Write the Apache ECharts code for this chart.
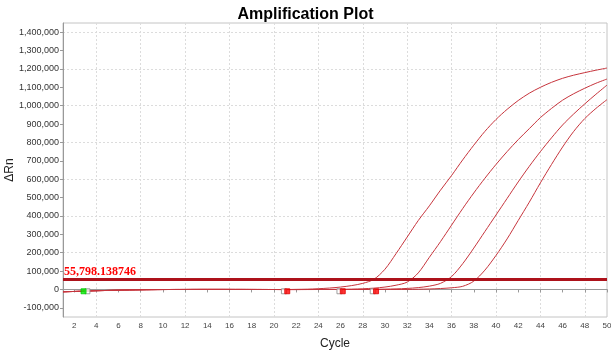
<!DOCTYPE html>
<html>
<head>
<meta charset="utf-8">
<script src="https://cdn.jsdelivr.net/npm/echarts@6/dist/echarts.min.js"></script>
<style>
  html, body { margin: 0; padding: 0; background: #fff; }
  #chart { width: 611px; height: 353px; }
</style>
</head>
<body>
<div id="chart"></div>
<script>
const cycles = [1, 2, 3, 4, 5, 6, 7, 8, 9, 10, 11, 12, 13, 14, 15, 16, 17, 18, 19, 20,
  21, 22, 23, 24, 25, 26, 27, 28, 29, 30, 31, 32, 33, 34, 35, 36, 37, 38, 39, 40,
  41, 42, 43, 44, 45, 46, 47, 48, 49, 50]

// shared baseline, cycles 1..21
const baseline = [-13000, -11000, -9000, -7000, -5500, -4000, -3000, -2000, -1200, -600,
  -200, 0, 200, 300, 300, 200, 100, 0, -200, -400, -600]

// cycles 22..50 for each well
const well1 = [500, 1500, 4000, 7500, 13000, 21000, 33000, 55000, 110000, 195000,
  285000, 375000, 455000, 540000, 620000, 705000, 785000, 860000, 925000, 980000,
  1028000, 1068000, 1100000, 1127000, 1149000, 1166000, 1180000, 1193000, 1205000]
const well2 = [-600, -500, -300, 0, 500, 1500, 3500, 7000, 13000, 23000,
  40000, 90000, 175000, 260000, 350000, 440000, 525000, 605000, 680000, 750000,
  815000, 875000, 935000, 985000, 1030000, 1065000, 1095000, 1122000, 1145000]
const well3 = [-600, -500, -400, -300, -200, -100, 0, 500, 1500, 3000,
  5500, 10000, 18000, 33000, 70000, 140000, 225000, 315000, 405000, 495000,
  585000, 670000, 750000, 825000, 895000, 955000, 1010000, 1062000, 1112000]
const well4 = [-600, -500, -400, -300, -200, -100, 0, 0, 0, 0,
  0, 1000, 2500, 5000, 9000, 17000, 45000, 105000, 185000, 275000,
  375000, 475000, 580000, 680000, 775000, 860000, 930000, 985000, 1033000]

const threshold = 55798.138746
const thresholdText = '55,798.138746'

// baseline start / end markers [cycle, value]
const greenMarks = [[2.85, -10000]]
const whiteMarks = [[3.2, -10000], [20.9, -10000], [25.9, -10000], [28.9, -10000]]
const redMarks = [[21.2, -10000], [26.2, -10000], [29.2, -10000]]

const xTickLabels = [2, 4, 6, 8, 10, 12, 14, 16, 18, 20, 22, 24, 26, 28, 30, 32, 34, 36,
  38, 40, 42, 44, 46, 48, 50]
const yTickLabels = [-100000, 0, 100000, 200000, 300000, 400000, 500000, 600000, 700000,
  800000, 900000, 1000000, 1100000, 1200000, 1300000, 1400000]

const chart = echarts.init(document.getElementById('chart'))

function curve (tail) {
  return cycles.map((c, i) => [c, i < baseline.length ? baseline[i] : tail[i - baseline.length]])
}

const curveColor = '#c6343c'
const gridColor = '#dcdcdc'
const wells = [well1, well2, well3, well4].map((w, i) => ({
  type: 'line',
  name: 'well' + (i + 1),
  data: curve(w),
  smooth: 0.3,
  symbol: 'none',
  lineStyle: { color: curveColor, width: 1 },
  z: 3,
  markLine: i === 0
    ? {
        silent: true,
        symbol: 'none',
        lineStyle: { color: '#ad121b', width: 3, type: 'solid' },
        label: {
          formatter: thresholdText,
          position: 'insideStartTop',
          distance: [1, 1],
          color: '#ff0000',
          fontFamily: 'Liberation Serif',
          fontWeight: 'bold',
          fontSize: 12
        },
        data: [{ yAxis: threshold }]
      }
    : undefined
}))

const markStyle = (fill, border) => ({
  type: 'scatter',
  symbol: 'rect',
  symbolSize: 5,
  itemStyle: { color: fill, borderColor: border, borderWidth: 1 },
  z: 5,
  silent: true
})

const option = {
  animation: false,
  title: {
    text: 'Amplification Plot',
    left: 'center',
    top: 2,
    textStyle: { fontFamily: 'Liberation Sans', fontWeight: 'bold', fontSize: 16, color: '#000' }
  },
  grid: {
    left: 63,
    right: 4,
    top: 23,
    bottom: 36,
    containLabel: false,
    outerBoundsMode: 'none',
    show: true,
    borderColor: '#c4c4c4',
    borderWidth: 1
  },
  xAxis: {
    type: 'value',
    min: 1,
    max: 50,
    interval: 1,
    name: 'Cycle',
    nameLocation: 'middle',
    nameGap: 21,
    nameMoveOverlap: false,
    nameTextStyle: { fontFamily: 'Liberation Sans', fontSize: 12, color: '#222' },
    axisLine: { lineStyle: { color: '#999' } },
    axisTick: { customValues: xTickLabels, length: 3, lineStyle: { color: '#999' } },
    axisLabel: {
      customValues: xTickLabels,
      margin: 5,
      fontFamily: 'Liberation Sans',
      fontSize: 8,
      color: '#444'
    },
    // ticks run every cycle from 1, so only every other line is drawn
    splitLine: { show: true, lineStyle: { color: ['rgba(0,0,0,0)', gridColor], type: [2, 2] } }
  },
  yAxis: {
    type: 'value',
    min: -150000,
    max: 1450000,
    interval: 50000,
    name: 'ΔRn',
    nameLocation: 'middle',
    nameGap: 47,
    nameMoveOverlap: false,
    nameTextStyle: { fontFamily: 'Liberation Sans', fontSize: 12, color: '#222' },
    axisLine: { show: true, lineStyle: { color: '#999' } },
    axisTick: { show: true, customValues: yTickLabels, length: 3, lineStyle: { color: '#999' } },
    axisLabel: {
      customValues: yTickLabels,
      margin: 4,
      fontFamily: 'Liberation Sans',
      fontSize: 9,
      color: '#333',
      formatter: v => v.toLocaleString('en-US')
    },
    splitLine: { show: true, lineStyle: { color: ['rgba(0,0,0,0)', gridColor], type: [2, 2] } }
  },
  series: [
    ...wells,
    { ...markStyle('#ffffff', '#888888'), data: whiteMarks },
    { ...markStyle('#00ee00', '#00cc00'), data: greenMarks },
    { ...markStyle('#ff0000', '#dd0000'), data: redMarks }
  ]
}

chart.setOption(option)
</script>
</body>
</html>
